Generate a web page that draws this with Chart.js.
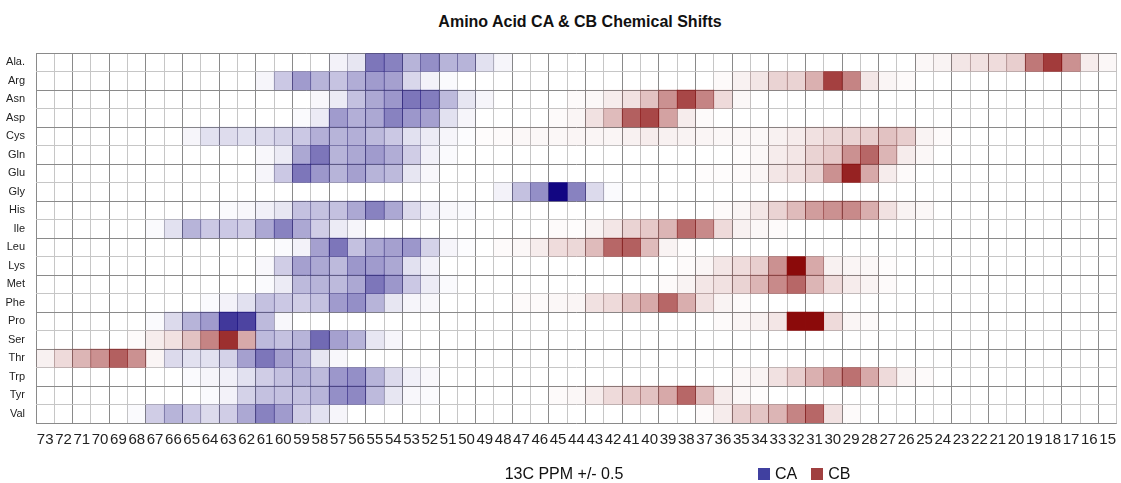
<!DOCTYPE html>
<html>
<head>
<meta charset="utf-8">
<script src="https://cdn.jsdelivr.net/npm/chart.js@4.4.1/dist/chart.umd.min.js"></script>
<style>
  body { margin: 0; background: #fff; width: 1121px; height: 483px; overflow: hidden; position: relative; font-family: 'Liberation Sans', Arial, sans-serif; color: #111; }
  #shifts { position: absolute; left: 0; top: 0; }
  .title { position: absolute; left: 0; top: 13px; width: 1160px; text-align: center; font-size: 16px; font-weight: bold; }
  .axis-title { position: absolute; left: 364px; top: 465px; width: 400px; text-align: center; font-size: 16px; line-height: 18px; }
  .key { position: absolute; left: 758px; top: 465px; font-size: 16px; line-height: 18px; display: flex; align-items: center; }
  .key span.box { display: inline-block; width: 12px; height: 12px; margin-right: 5px; }
  .key span.name { margin-right: 14px; }
</style>
</head>
<body>
<div class="title">Amino Acid CA &amp; CB Chemical Shifts</div>
<canvas id="shifts" width="1124" height="483"></canvas>
<div class="axis-title">13C PPM +/- 0.5</div>
<div class="key">
  <span class="box" style="background:#4040a0"></span><span class="name">CA</span>
  <span class="box" style="background:#a04040"></span><span class="name">CB</span>
</div>
<script>
const residues = ['Ala.', 'Arg', 'Asn', 'Asp', 'Cys', 'Gln', 'Glu', 'Gly', 'His', 'Ile',
  'Leu', 'Lys', 'Met', 'Phe', 'Pro', 'Ser', 'Thr', 'Trp', 'Tyr', 'Val']

const ppmLabels = [73, 72, 71, 70, 69, 68, 67, 66, 65, 64, 63, 62, 61, 60, 59, 58, 57, 56, 55, 54,
  53, 52, 51, 50, 49, 48, 47, 46, 45, 44, 43, 42, 41, 40, 39, 38, 37, 36, 35, 34,
  33, 32, 31, 30, 29, 28, 27, 26, 25, 24, 23, 22, 21, 20, 19, 18, 17, 16, 15]

// CA frequency (0-100) per residue, starting at caFrom[i] ppm and going down 1 ppm per entry
const caFrom = [57, 61, 58, 59, 65, 61, 61, 48, 63, 67, 60, 61, 61, 64, 67, 61, 66, 65, 64, 68]
const caLevels = [
  [5, 10, 55, 50, 30, 45, 30, 30, 12, 4],
  [4, 22, 40, 30, 24, 33, 40, 38, 16, 5, 2],
  [3, 8, 25, 35, 42, 55, 52, 28, 10, 4],
  [2, 8, 40, 32, 35, 50, 42, 38, 12, 4],
  [4, 12, 14, 12, 15, 18, 22, 32, 30, 32, 28, 22, 12, 8, 4, 1],
  [3, 8, 35, 55, 30, 35, 40, 33, 20, 6, 2],
  [4, 22, 55, 42, 30, 38, 30, 28, 10, 3],
  [5, 25, 45, 100, 50, 15, 2],
  [2, 3, 6, 10, 25, 25, 25, 35, 50, 35, 15, 6, 3, 2],
  [2, 12, 30, 22, 22, 20, 35, 50, 35, 20, 8, 4],
  [2, 5, 38, 55, 25, 35, 38, 42, 18, 4, 1],
  [3, 20, 38, 35, 28, 42, 40, 35, 12, 5],
  [2, 8, 28, 30, 28, 35, 55, 42, 22, 8, 2],
  [2, 5, 12, 25, 22, 20, 25, 40, 45, 30, 10, 4, 3],
  [2, 15, 30, 40, 80, 75, 28, 3],
  [28, 25, 30, 60, 38, 30, 10, 4],
  [15, 12, 12, 18, 38, 55, 38, 30, 10, 3],
  [2, 4, 6, 12, 20, 25, 30, 28, 42, 45, 30, 15, 6, 3],
  [2, 5, 18, 25, 25, 25, 30, 45, 48, 28, 10, 3, 2],
  [2, 20, 30, 22, 15, 20, 35, 50, 40, 20, 12, 4],
]

// CB frequency (0-100), same layout; Gly has no CB
const cbFrom = [25, 36, 44, 45, 49, 35, 37, 0, 36, 45, 48, 38, 39, 47, 36, 68, 73, 35, 45, 37]
const cbLevels = [
  [3, 5, 10, 12, 14, 20, 55, 80, 45, 8, 3],
  [2, 6, 10, 18, 18, 32, 78, 50, 10, 4, 2],
  [2, 3, 8, 12, 25, 45, 75, 50, 15, 3],
  [2, 4, 12, 28, 65, 75, 38, 8, 2],
  [1, 2, 3, 3, 3, 4, 4, 4, 6, 8, 6, 5, 4, 3, 3, 3, 6, 8, 12, 16, 18, 20, 25, 20, 5, 2],
  [1, 3, 8, 10, 18, 22, 45, 62, 30, 8, 3],
  [1, 1, 2, 4, 10, 12, 18, 45, 90, 35, 8, 2],
  [],
  [2, 4, 10, 18, 28, 40, 45, 48, 33, 12, 5, 3],
  [2, 1, 5, 10, 18, 22, 30, 60, 48, 15, 6, 3, 2],
  [2, 3, 8, 14, 16, 28, 62, 65, 28, 5, 1],
  [2, 4, 10, 14, 20, 45, 100, 35, 6, 4, 3, 1],
  [2, 5, 10, 12, 18, 30, 48, 62, 30, 14, 8, 5, 2],
  [2, 2, 3, 4, 12, 15, 25, 35, 62, 33, 12, 5, 2],
  [2, 4, 6, 10, 100, 100, 15, 4, 2],
  [2, 8, 12, 25, 50, 85, 35],
  [6, 15, 30, 45, 65, 45, 4],
  [3, 5, 12, 20, 32, 45, 58, 35, 15, 5, 2],
  [2, 3, 8, 15, 22, 25, 35, 62, 28, 8, 3, 1],
  [2, 8, 20, 24, 30, 50, 62, 12, 2],
]

const caColor = [18, 6, 130]
const cbColor = [139, 10, 10]

function levelAt(from, levels, ppm) {
  const k = from - ppm
  return k >= 0 && k < levels.length ? levels[k] : 0
}

// one bar per ppm column, spanning the residue's row on the y scale
function rowDataset(row, from, levels, rgb) {
  const values = ppmLabels.map((p) => levelAt(from, levels, p))
  return {
    data: values.map((v) => (v > 0 ? [row, row + 1] : null)),
    backgroundColor: values.map((v) => `rgba(${rgb[0]}, ${rgb[1]}, ${rgb[2]}, ${v / 100})`),
  }
}

const datasets = []
residues.forEach((name, i) => {
  datasets.push(rowDataset(i, caFrom[i], caLevels[i], caColor))
  datasets.push(rowDataset(i, cbFrom[i], cbLevels[i], cbColor))
})

const gridColor = (ctx) => (ctx.index % 2 === 0 ? '#8a8a8a' : '#c6c6c6')

new Chart(document.getElementById('shifts'), {
  type: 'bar',
  data: { labels: ppmLabels, datasets },
  options: {
    responsive: false,
    animation: false,
    layout: { padding: { top: 53, right: 0, bottom: 0, left: 0 } },
    datasets: {
      bar: { grouped: false, barPercentage: 1, categoryPercentage: 1, borderWidth: 0 },
    },
    plugins: {
      legend: { display: false },
      tooltip: { enabled: false },
      title: { display: false },
    },
    scales: {
      x: {
        type: 'category',
        offset: true,
        z: 1,
        grid: { offset: true, color: gridColor, lineWidth: 1, drawTicks: false },
        border: { display: false },
        ticks: {
          autoSkip: false,
          maxRotation: 0,
          padding: 8,
          color: '#222',
          font: { family: "'Liberation Sans Narrow', 'Liberation Sans', sans-serif", size: 15 },
        },
        afterFit: (scale) => { scale.height = 60 },
      },
      y: {
        type: 'linear',
        min: 0,
        max: 20,
        reverse: true,
        z: 1,
        ticks: { display: false, stepSize: 1 },
        grid: { color: gridColor, lineWidth: 1, drawTicks: false },
        border: { display: false },
        afterFit: (scale) => { scale.width = 0 },
      },
      rows: {
        type: 'category',
        labels: residues,
        position: 'left',
        offset: true,
        grid: { display: false },
        border: { display: false },
        ticks: {
          padding: 3,
          color: '#222',
          font: { family: "'Liberation Sans', Arial, sans-serif", size: 11 },
        },
        afterFit: (scale) => { scale.width = 36 },
      },
    },
  },
})
</script>
</body>
</html>
